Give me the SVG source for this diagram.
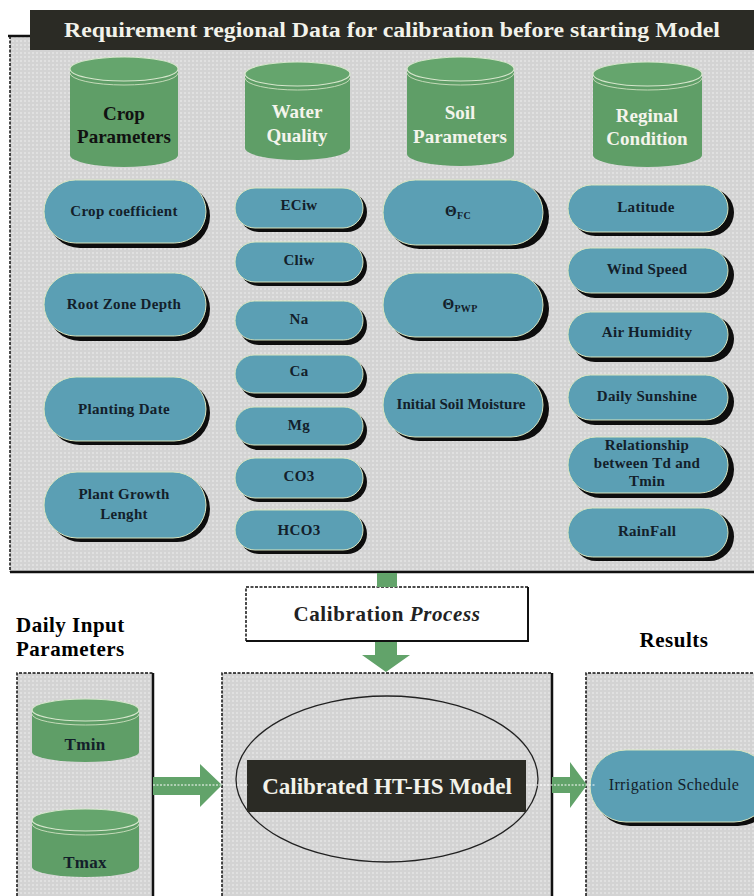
<svg xmlns="http://www.w3.org/2000/svg" width="754" height="896" viewBox="0 0 754 896">
<defs>
<pattern id="grid" width="4" height="4" patternUnits="userSpaceOnUse">
<rect width="4" height="4" fill="#d3d3d3"/>
<rect width="2" height="2" fill="#e0e0e0"/>
</pattern>
</defs>
<style>
text{font-family:"Liberation Serif","DejaVu Serif",serif;font-weight:bold;}
.panel{fill:url(#grid);}
.edge{stroke:#111;stroke-width:1.5;stroke-dasharray:3 1.5;fill:none;}
.solid{stroke:#111;stroke-width:2.5;fill:none;}
.cylb{fill:#5f9e67;}
.cylt{fill:#65a56d;stroke:#d6e6cc;stroke-width:1.2;}
.rim{fill:none;stroke:#c4dab8;stroke-width:1;}
.pill{fill:#5b9fb4;stroke:#d9e6c0;stroke-width:1;}
.shadow{fill:#0d0d0d;}
.pt{font-size:15px;fill:#13202a;text-anchor:middle;letter-spacing:0.3px;}
.ct{font-size:19px;fill:#f4f4ec;text-anchor:middle;}
.lbl{font-size:21px;fill:#000;letter-spacing:0.5px;}
.arrow{fill:#62a36a;}
</style>

<!-- top panel -->
<g id="top-panel">
<rect class="panel" x="10" y="36" width="744" height="536"/>
<line class="edge" x1="10" y1="36" x2="10" y2="572"/>
<line class="solid" x1="8" y1="36" x2="32" y2="36"/>
<line class="solid" x1="10" y1="572" x2="754" y2="572"/>
</g>
<g id="header">
<rect x="30" y="10" width="724" height="40" fill="#2b2b25"/>
<text x="392" y="37" font-size="20" fill="#f2f2ea" text-anchor="middle" textLength="656" lengthAdjust="spacingAndGlyphs">Requirement regional Data for calibration before starting Model</text>
</g>

<!-- cylinders -->
<g id="cyl-crop">
<path class="cylb" d="M70,69 A54,12 0 0,1 178,69 L178,155 A54,12 0 0,1 70,155 Z"/>
<ellipse class="cylt" cx="124" cy="69" rx="54" ry="12"/>
<path class="rim" d="M70,73 A54,12 0 0,0 178,73"/>
<text class="ct" x="124" y="120" style="fill:#111">Crop</text>
<text class="ct" x="124" y="143" style="fill:#111">Parameters</text>
</g>
<g id="cyl-water">
<path class="cylb" d="M245,74 A52.5,12 0 0,1 350,74 L350,148 A52.5,12 0 0,1 245,148 Z"/>
<ellipse class="cylt" cx="297.5" cy="74" rx="52.5" ry="12"/>
<path class="rim" d="M245,78 A52.5,12 0 0,0 350,78"/>
<text class="ct" x="297" y="118">Water</text>
<text class="ct" x="297" y="142">Quality</text>
</g>
<g id="cyl-soil">
<path class="cylb" d="M407,69 A53.5,12 0 0,1 514,69 L514,154 A53.5,12 0 0,1 407,154 Z"/>
<ellipse class="cylt" cx="460.5" cy="69" rx="53.5" ry="12"/>
<path class="rim" d="M407,73 A53.5,12 0 0,0 514,73"/>
<text class="ct" x="460" y="119">Soil</text>
<text class="ct" x="460" y="143">Parameters</text>
</g>
<g id="cyl-regional">
<path class="cylb" d="M593,74 A54.5,12 0 0,1 702,74 L702,155 A54.5,12 0 0,1 593,155 Z"/>
<ellipse class="cylt" cx="647.5" cy="74" rx="54.5" ry="12"/>
<path class="rim" d="M593,78 A54.5,12 0 0,0 702,78"/>
<text class="ct" x="647" y="122">Reginal</text>
<text class="ct" x="647" y="145">Condition</text>
</g>

<!-- column 1 pills -->
<g id="crop-coefficient">
<rect class="shadow" x="48" y="184" width="162" height="64" rx="32"/>
<rect class="pill" x="44" y="180" width="162" height="63" rx="31.5"/>
<text class="pt" x="124" y="216">Crop coefficient</text>
</g>
<g id="root-zone-depth">
<rect class="shadow" x="48" y="277" width="162" height="64" rx="32"/>
<rect class="pill" x="44" y="273" width="162" height="63" rx="31.5"/>
<text class="pt" x="124" y="309">Root Zone Depth</text>
</g>
<g id="planting-date">
<rect class="shadow" x="48" y="381" width="162" height="64" rx="32"/>
<rect class="pill" x="44" y="377" width="162" height="64" rx="32"/>
<text class="pt" x="124" y="414">Planting Date</text>
</g>
<g id="plant-growth">
<rect class="shadow" x="48" y="476" width="162" height="66" rx="33"/>
<rect class="pill" x="44" y="472" width="162" height="66" rx="33"/>
<text class="pt" x="124" y="499">Plant Growth</text>
<text class="pt" x="124" y="519">Lenght</text>
</g>

<!-- column 2 pills -->
<g id="eciw">
<rect class="shadow" x="239" y="192" width="128" height="40" rx="20"/>
<rect class="pill" x="235" y="188" width="128" height="40" rx="20"/>
<text class="pt" x="299" y="210">ECiw</text>
</g>
<g id="cliw">
<rect class="shadow" x="239" y="246" width="128" height="40" rx="20"/>
<rect class="pill" x="235" y="242" width="128" height="40" rx="20"/>
<text class="pt" x="299" y="265">Cliw</text>
</g>
<g id="na">
<rect class="shadow" x="239" y="305" width="128" height="40" rx="20"/>
<rect class="pill" x="235" y="301" width="128" height="39" rx="19.5"/>
<text class="pt" x="299" y="324">Na</text>
</g>
<g id="ca">
<rect class="shadow" x="239" y="359" width="128" height="39" rx="19.5"/>
<rect class="pill" x="235" y="355" width="128" height="38" rx="19"/>
<text class="pt" x="299" y="376">Ca</text>
</g>
<g id="mg">
<rect class="shadow" x="239" y="411" width="128" height="39" rx="19.5"/>
<rect class="pill" x="235" y="407" width="128" height="38" rx="19"/>
<text class="pt" x="299" y="430">Mg</text>
</g>
<g id="co3">
<rect class="shadow" x="239" y="462" width="128" height="40" rx="20"/>
<rect class="pill" x="235" y="458" width="128" height="40" rx="20"/>
<text class="pt" x="299" y="481">CO3</text>
</g>
<g id="hco3">
<rect class="shadow" x="239" y="514" width="128" height="40" rx="20"/>
<rect class="pill" x="235" y="510" width="128" height="40" rx="20"/>
<text class="pt" x="299" y="535">HCO3</text>
</g>

<!-- column 3 pills -->
<g id="theta-fc">
<rect class="shadow" x="387" y="184" width="162" height="65" rx="32.5"/>
<rect class="pill" x="383" y="180" width="160" height="65" rx="32.5"/>
<text class="pt" x="458" y="216">Θ<tspan font-size="10" dy="3">FC</tspan></text>
</g>
<g id="theta-pwp">
<rect class="shadow" x="387" y="277" width="162" height="64" rx="32"/>
<rect class="pill" x="383" y="273" width="160" height="64" rx="32"/>
<text class="pt" x="460" y="309">Θ<tspan font-size="10" dy="3">PWP</tspan></text>
</g>
<g id="initial-soil-moisture">
<rect class="shadow" x="387" y="377" width="162" height="64" rx="32"/>
<rect class="pill" x="383" y="373" width="160" height="64" rx="32"/>
<text class="pt" x="461" y="409" style="letter-spacing:0">Initial Soil Moisture</text>
</g>

<!-- column 4 pills -->
<g id="latitude">
<rect class="shadow" x="572" y="189" width="162" height="47" rx="23.5"/>
<rect class="pill" x="568" y="185" width="160" height="47" rx="23.5"/>
<text class="pt" x="646" y="212">Latitude</text>
</g>
<g id="wind-speed">
<rect class="shadow" x="572" y="252" width="162" height="46" rx="23"/>
<rect class="pill" x="568" y="248" width="160" height="45" rx="22.5"/>
<text class="pt" x="647" y="274">Wind Speed</text>
</g>
<g id="air-humidity">
<rect class="shadow" x="572" y="316" width="162" height="46" rx="23"/>
<rect class="pill" x="568" y="312" width="160" height="45" rx="22.5"/>
<text class="pt" x="647" y="337">Air Humidity</text>
</g>
<g id="daily-sunshine">
<rect class="shadow" x="572" y="379" width="162" height="46" rx="23"/>
<rect class="pill" x="568" y="375" width="160" height="45" rx="22.5"/>
<text class="pt" x="647" y="401">Daily Sunshine</text>
</g>
<g id="relationship">
<rect class="shadow" x="572" y="441" width="162" height="57" rx="28.5"/>
<rect class="pill" x="568" y="437" width="160" height="56" rx="28"/>
<text class="pt" x="647" y="450">Relationship</text>
<text class="pt" x="647" y="468">between Td and</text>
<text class="pt" x="647" y="486">Tmin</text>
</g>
<g id="rainfall">
<rect class="shadow" x="572" y="512" width="162" height="49" rx="24.5"/>
<rect class="pill" x="568" y="508" width="160" height="49" rx="24.5"/>
<text class="pt" x="647" y="536">RainFall</text>
</g>

<!-- bottom labels -->
<g id="daily-input-label">
<text class="lbl" x="16" y="632">Daily Input</text>
<text class="lbl" x="16" y="656">Parameters</text>
</g>
<g id="results-label">
<text class="lbl" x="674" y="647" text-anchor="middle">Results</text>
</g>

<!-- calibration process box -->
<g id="calibration-process">
<rect x="246" y="587" width="282" height="54" fill="#fff"/>
<path d="M246,641 L246,587 L528,587" class="edge"/>
<path d="M528,587 L528,641 L246,641" class="solid" style="stroke-width:2"/>
<text x="387" y="621" font-size="21" fill="#222" text-anchor="middle" letter-spacing="0.6">Calibration <tspan font-style="italic">Process</tspan></text>
</g>

<!-- daily input panel -->
<g id="daily-input-panel">
<rect class="panel" x="17" y="673" width="136" height="223"/>
<path class="edge" d="M17,896 L17,673 L153,673"/>
<line class="solid" x1="153" y1="673" x2="153" y2="896"/>
</g>
<g id="tmin">
<path class="cylb" d="M32,710 A53.5,11 0 0,1 139,710 L139,752 A53.5,10 0 0,1 32,752 Z"/>
<ellipse class="cylt" cx="85.5" cy="710" rx="53.5" ry="11"/>
<path class="rim" d="M32,714 A53.5,11 0 0,0 139,714"/>
<text class="pt" x="85" y="750" style="font-size:17px">Tmin</text>
</g>
<g id="tmax">
<path class="cylb" d="M32,820 A53.5,11 0 0,1 139,820 L139,867 A53.5,10 0 0,1 32,867 Z"/>
<ellipse class="cylt" cx="85.5" cy="820" rx="53.5" ry="11"/>
<path class="rim" d="M32,824 A53.5,11 0 0,0 139,824"/>
<text class="pt" x="85" y="868" style="font-size:17px">Tmax</text>
</g>

<!-- model panel -->
<g id="model-panel">
<rect class="panel" x="222" y="673" width="330" height="223"/>
<path class="edge" d="M222,896 L222,673 L552,673"/>
<line class="solid" x1="552" y1="673" x2="552" y2="896"/>
</g>
<g id="calibrated-model">
<ellipse cx="387" cy="779" rx="151" ry="83" fill="none" stroke="#222" stroke-width="1.3"/>
<rect x="247" y="760" width="279" height="52" fill="#2b2b25"/>
<text x="387" y="794" font-size="23" fill="#f2f2ea" text-anchor="middle">Calibrated HT-HS Model</text>
</g>

<!-- results panel -->
<g id="results-panel">
<rect class="panel" x="586" y="673" width="168" height="223"/>
<path class="edge" d="M586,896 L586,673 L754,673"/>
</g>
<g id="irrigation-schedule">
<rect class="shadow" x="594" y="754" width="180" height="72" rx="36"/>
<rect class="pill" x="590" y="750" width="180" height="72" rx="36"/>
<text class="pt" x="674" y="790" style="font-weight:normal;font-size:16px;letter-spacing:0.4px">Irrigation Schedule</text>
</g>

<!-- connectors -->
<g id="connectors">
<rect class="arrow" x="377" y="573" width="20" height="14"/>
<path class="arrow" d="M375,642 L397,642 L397,655 L410,655 L386,672 L362,655 L375,655 Z"/>
<path class="arrow" d="M153,777 L200,777 L200,764 L222,785 L200,807 L200,795 L153,795 Z"/>
<path class="arrow" d="M552,777 L570,777 L570,762 L587,785 L570,808 L570,793 L552,793 Z"/>
<line x1="153" y1="785" x2="248" y2="785" stroke="#fff" stroke-width="1" stroke-dasharray="2 1.5"/>
<line x1="526" y1="785" x2="596" y2="785" stroke="#fff" stroke-width="1" stroke-dasharray="2 1.5"/>
</g>
</svg>
